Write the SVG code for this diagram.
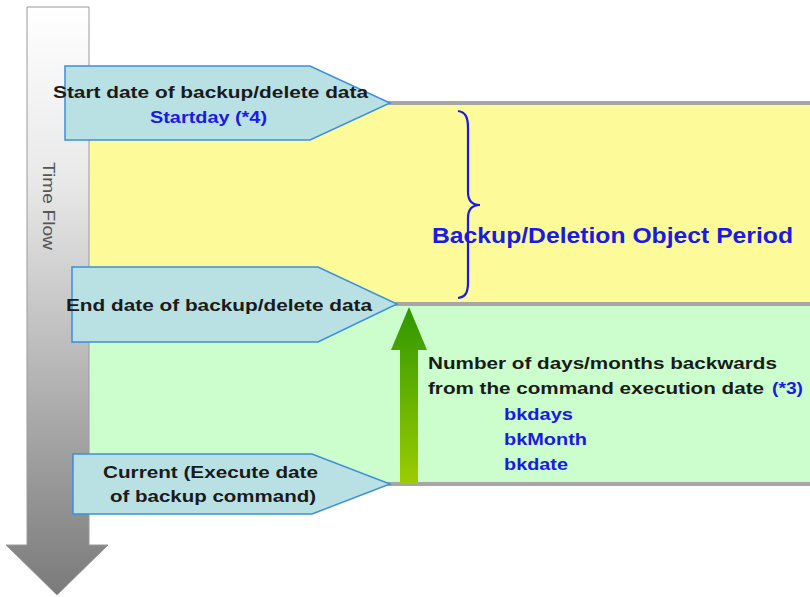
<svg xmlns="http://www.w3.org/2000/svg" width="810" height="597" viewBox="0 0 810 597">
<defs>
<linearGradient id="timeGrad" x1="0" y1="0" x2="0" y2="1">
<stop offset="0" stop-color="#ffffff"/>
<stop offset="0.3" stop-color="#e8e8e8"/>
<stop offset="1" stop-color="#7a7a7a"/>
</linearGradient>
<linearGradient id="greenGrad" x1="0" y1="0" x2="0" y2="1">
<stop offset="0" stop-color="#2e9600"/>
<stop offset="1" stop-color="#9ccc00"/>
</linearGradient>
<style>
.lbl{fill:#b9e0e3;stroke:#3d8fdc;stroke-width:1.5}
.bk{font-family:"Liberation Sans",Arial,sans-serif;font-weight:bold;font-size:16.5px;fill:#1a1a1a}
.bl{font-family:"Liberation Sans",Arial,sans-serif;font-weight:bold;font-size:16.5px;fill:#1a1ae6}
.sep{stroke:#a6a6a6;stroke-width:4;fill:none}
</style>
</defs>
<rect width="810" height="597" fill="#ffffff"/>
<g id="bands">
<rect x="89" y="103" width="721" height="200" fill="#fdfb99"/>
<rect x="89" y="305" width="721" height="179" fill="#ccfdcc"/>
<line class="sep" x1="388" y1="103" x2="810" y2="103"/>
<line class="sep" x1="395" y1="304" x2="810" y2="304"/>
<line class="sep" x1="388" y1="484" x2="810" y2="484"/>
</g>
<g id="time-flow">
<path d="M27,7 H89 V545 H108 L57,595 L6,545 H27 Z" fill="url(#timeGrad)" stroke="#9a9a9a" stroke-width="1"/>
<text x="48" y="206" transform="rotate(90 48 206)" text-anchor="middle" dominant-baseline="central" font-family="'Liberation Sans',Arial,sans-serif" font-size="16" fill="#555555" textLength="88" lengthAdjust="spacingAndGlyphs">Time Flow</text>
</g>
<g id="start-node">
<path class="lbl" d="M65,66 H310 L390,103 L310,140 H65 Z"/>
<text class="bk" x="53" y="98" textLength="315" lengthAdjust="spacingAndGlyphs">Start date of backup/delete data</text>
<text class="bl" x="150" y="123" textLength="117" lengthAdjust="spacingAndGlyphs">Startday (*4)</text>
</g>
<g id="end-node">
<path class="lbl" d="M72,267 H318 L397,304 L318,342 H72 Z"/>
<text class="bk" x="66" y="311" textLength="306" lengthAdjust="spacingAndGlyphs">End date of backup/delete data</text>
</g>
<g id="current-node">
<path class="lbl" d="M73,454 H312 L390,484 L312,514 H73 Z"/>
<text class="bk" x="103" y="478" textLength="215" lengthAdjust="spacingAndGlyphs">Current (Execute date</text>
<text class="bk" x="110" y="502" textLength="206" lengthAdjust="spacingAndGlyphs">of backup command)</text>
</g>
<g id="period">
<path d="M458,111 C466,112 468,118 468,128 V192 C468,200 472,205 480,205 C472,205 468,210 468,218 V282 C468,292 466,297 458,298" fill="none" stroke="#1a1ae6" stroke-width="2.2"/>
<text x="432" y="243" textLength="361" lengthAdjust="spacingAndGlyphs" font-family="'Liberation Sans',Arial,sans-serif" font-weight="bold" font-size="22" fill="#1a1ae6">Backup/Deletion Object Period</text>
</g>
<g id="connectors">
<path d="M400,483 V350 H391 L409,307 L427,350 H418 V483 Z" fill="url(#greenGrad)"/>
</g>
<g id="backwards">
<text class="bk" x="428" y="369" textLength="349" lengthAdjust="spacingAndGlyphs">Number of days/months backwards</text>
<text class="bk" x="428" y="394" textLength="336" lengthAdjust="spacingAndGlyphs">from the command execution date</text>
<text class="bl" x="772" y="394" textLength="31" lengthAdjust="spacingAndGlyphs">(*3)</text>
<text class="bl" x="504" y="420" textLength="69" lengthAdjust="spacingAndGlyphs">bkdays</text>
<text class="bl" x="504" y="445" textLength="83" lengthAdjust="spacingAndGlyphs">bkMonth</text>
<text class="bl" x="504" y="470" textLength="64" lengthAdjust="spacingAndGlyphs">bkdate</text>
</g>
</svg>
